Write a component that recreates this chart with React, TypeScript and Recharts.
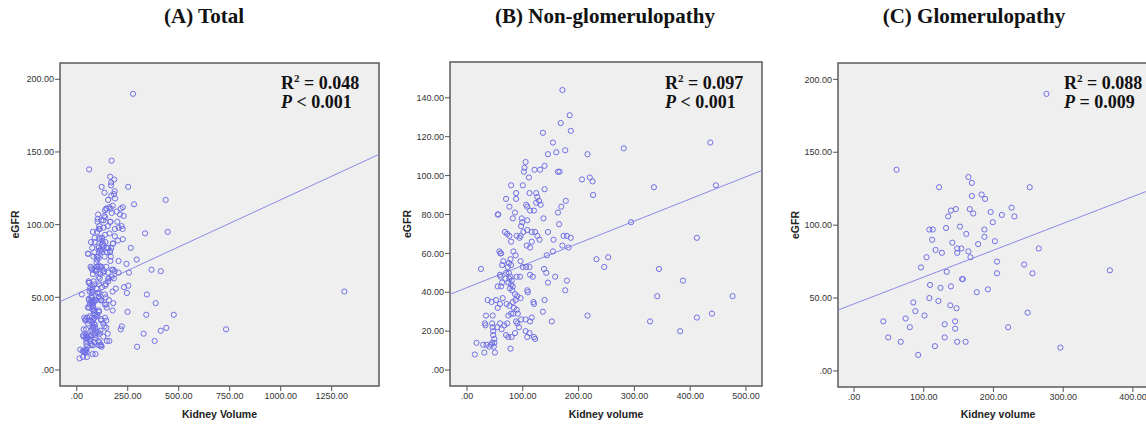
import {
  ScatterChart,
  Scatter,
  XAxis,
  YAxis,
  CartesianGrid,
  ReferenceArea,
  ReferenceLine,
} from "recharts";

type Point = [number, number]; // [kidney volume, eGFR]

// (B) non-glomerulopathy patients
const nonGlomPoints: Point[] = [
  [171, 144], [184, 131], [168, 127], [186, 123], [136, 122], [154, 117], [145, 111], [160, 112], [176, 113], [216, 111],
  [105, 107], [103, 104], [121, 103], [131, 103], [139, 105], [102, 102], [111, 99], [163, 102], [166, 102],
  [206, 98], [220, 99], [225, 97], [226, 90], [79, 95], [100, 95], [139, 93], [88, 91], [112, 91], [124, 91],
  [70, 88], [88, 88], [126, 89], [129, 87], [124, 86], [177, 87], [76, 84], [106, 85], [108, 84], [113, 82],
  [132, 85], [169, 84], [120, 82], [163, 81], [55, 80], [56, 80], [86, 81], [82, 78], [98, 78], [99, 76],
  [108, 77], [137, 78], [165, 75], [97, 74],
  [68, 71], [76, 69], [72, 70], [79, 66], [89, 69], [94, 68], [96, 69], [101, 71], [108, 72], [116, 71], [122, 71],
  [126, 69], [130, 67], [116, 66], [113, 63], [107, 64], [145, 71], [155, 67], [173, 69], [179, 69], [186, 68],
  [171, 64], [182, 63], [154, 61], [143, 59], [232, 57],
  [58, 61], [60, 60], [61, 60], [78, 57], [83, 61], [87, 59], [65, 56], [63, 54], [75, 55], [79, 54], [73, 53],
  [96, 56], [100, 53], [106, 53], [112, 53], [25, 52], [59, 49], [60, 48], [70, 50], [69, 47],
  [75, 50], [78, 48], [76, 47], [80, 46], [74, 45], [79, 44], [82, 43], [77, 42], [81, 41], [55, 43], [61, 43], [63, 45],
  [89, 48], [95, 48], [113, 49], [118, 48], [138, 52], [142, 50], [158, 48], [179, 46], [145, 45], [176, 41],
  [108, 41], [109, 40], [86, 39], [90, 38], [96, 37],
  [37, 36], [44, 35], [52, 36], [59, 34], [64, 37], [55, 32], [71, 34], [76, 33], [82, 35], [87, 36],
  [84, 32], [89, 31], [79, 29], [74, 28], [83, 29], [119, 35], [120, 34], [139, 36], [136, 30], [152, 25],
  [216, 28], [34, 28], [46, 28], [32, 24], [33, 23], [45, 24], [46, 22], [47, 20], [47, 18], [49, 16],
  [49, 14], [48, 12], [54, 22], [59, 24], [62, 21], [67, 23], [72, 24], [88, 25], [90, 24], [105, 26],
  [113, 25], [116, 27], [105, 20], [112, 19], [108, 17], [120, 17], [122, 16], [70, 18], [74, 17], [80, 17],
  [86, 19], [97, 26], [91, 29], [93, 22],
  [17, 14], [29, 13], [35, 13], [40, 12], [43, 13], [45, 14], [14, 8], [31, 9], [50, 9], [78, 11],
  [281, 114], [436, 117], [335, 94], [446, 95], [294, 76], [412, 68], [253, 58], [246, 53], [344, 52], [387, 46],
  [341, 38], [476, 38], [412, 27], [439, 29], [328, 25], [382, 20],
];

// (C) glomerulopathy patients
const glomPoints: Point[] = [
  [61, 138], [164, 133], [169, 129], [122, 126], [169, 120], [183, 121], [188, 118], [139, 110], [146, 111],
  [135, 106], [166, 111], [171, 108], [196, 109], [199, 102], [132, 98], [152, 99], [108, 97], [113, 97],
  [112, 90], [161, 94], [187, 97], [187, 92], [178, 87], [202, 89], [141, 88], [117, 83], [126, 81], [148, 84],
  [154, 84], [148, 81], [164, 82], [167, 78], [104, 78], [96, 71], [133, 68], [155, 63], [156, 63], [205, 75],
  [205, 67], [109, 59], [124, 57], [139, 58], [108, 50], [121, 48], [176, 54], [192, 56], [85, 47], [88, 41],
  [101, 38], [138, 45], [147, 43], [42, 34], [74, 36], [80, 30], [130, 32], [145, 34], [145, 29], [49, 23],
  [67, 20], [130, 23], [116, 17], [148, 20], [160, 20], [92, 11],
  [276, 190], [252, 126], [226, 112], [230, 106], [212, 107], [265, 84], [244, 73], [256, 67], [367, 69],
  [249, 40], [221, 30], [296, 16],
];

// only visible in (A): very large kidneys
const totalOnlyPoints: Point[] = [[732, 28], [1312, 54]];
const totalPoints: Point[] = [...nonGlomPoints, ...glomPoints, ...totalOnlyPoints];

const totalXTicks = [0, 250, 500, 750, 1000, 1250];
const totalYTicks = [0, 50, 100, 150, 200];
const nonGlomXTicks = [0, 100, 200, 300, 400, 500];
const nonGlomYTicks = [0, 20, 40, 60, 80, 100, 120, 140];
const glomXTicks = [0, 100, 200, 300, 400];
const glomYTicks = [0, 50, 100, 150, 200];

// linear fits
const totalFit = { intercept: 52.3, slope: 0.0648 };
const nonGlomFit = { intercept: 42.4, slope: 0.114 };
const glomFit = { intercept: 46.0, slope: 0.184 };

const DOT = "#7070e6";
const FIT_LINE = "#8a8ae8";
const sans = "'Liberation Sans', Arial, sans-serif";
const serif = "'Liberation Serif', 'Times New Roman', serif";
const tickStyle = { fontSize: 9, fill: "#333", fontFamily: sans };

const fmt = (v: number) => (v === 0 ? ".00" : v.toFixed(2));

const Ring = (p: any) => (
  <circle cx={p.cx} cy={p.cy} r={2.6} fill="none" stroke={DOT} strokeWidth={1} />
);

interface PanelProps {
  left: number;
  width: number;
  top: number;
  bottom: number;
  right: number;
  yAxisWidth: number;
  yLabelOffset: number;
  points: Point[];
  xDomain: [number, number];
  yDomain: [number, number];
  xTicks: number[];
  yTicks: number[];
  fit: { intercept: number; slope: number };
  xLabel: string;
}

const Panel = (props: PanelProps) => {
  const { left, width, top, bottom, right, yAxisWidth, yLabelOffset, points, xDomain, yDomain, xTicks, yTicks, fit, xLabel } = props;
  const data = points.map(([x, y]) => ({ x, y }));
  const [x0, x1] = xDomain;
  return (
    <div style={{ position: "absolute", left, top: 0 }}>
      <ScatterChart width={width} height={428} margin={{ top, right, bottom: 0, left: 0 }}>
        <CartesianGrid fill="#efefef" horizontal={false} vertical={false} />
        <XAxis
          type="number"
          dataKey="x"
          domain={xDomain}
          ticks={xTicks}
          interval={0}
          allowDataOverflow
          height={428 - bottom}
          tickSize={5}
          tickMargin={2}
          axisLine={false}
          tickLine={{ stroke: "#555" }}
          tick={tickStyle}
          tickFormatter={fmt}
          label={{
            value: xLabel,
            position: "insideBottom",
            offset: 10,
            fontSize: 10.5,
            fontWeight: 700,
            fill: "#222",
            fontFamily: sans,
          }}
        />
        <YAxis
          type="number"
          dataKey="y"
          domain={yDomain}
          ticks={yTicks}
          interval={0}
          allowDataOverflow
          width={yAxisWidth}
          tickSize={5}
          tickMargin={1}
          axisLine={false}
          tickLine={{ stroke: "#555" }}
          tick={tickStyle}
          tickFormatter={fmt}
          label={{
            value: "eGFR",
            angle: -90,
            position: "insideLeft",
            offset: yLabelOffset,
            fontSize: 10.5,
            fontWeight: 700,
            fill: "#222",
            fontFamily: sans,
            style: { textAnchor: "middle" },
          }}
        />
        <ReferenceArea
          x1={x0}
          x2={x1}
          y1={yDomain[0]}
          y2={yDomain[1]}
          fill="none"
          stroke="#5b5b5b"
          strokeWidth={1.5}
          ifOverflow="visible"
        />
        <Scatter data={data} shape={Ring} isAnimationActive={false} />
        <ReferenceLine
          segment={[
            { x: x0, y: fit.intercept + fit.slope * x0 },
            { x: x1, y: fit.intercept + fit.slope * x1 },
          ]}
          stroke={FIT_LINE}
          strokeWidth={1}
          ifOverflow="visible"
        />
      </ScatterChart>
    </div>
  );
};

const Stats = ({ x, r2, p }: { x: number; r2: string; p: string }) => (
  <text x={x} y={89} fontFamily={serif} fontWeight={700} fontSize={18} fill="#111">
    <tspan x={x}>R</tspan>
    <tspan dy={-7} fontSize={11}>2</tspan>
    <tspan dy={7}>{` = ${r2}`}</tspan>
    <tspan x={x} dy={19} fontStyle="italic">P</tspan>
    <tspan>{` ${p}`}</tspan>
  </text>
);

export default function App() {
  return (
    <div
      style={{
        position: "absolute",
        left: 0,
        top: 0,
        width: 1146,
        height: 428,
        overflow: "hidden",
        background: "#fff",
      }}
    >
      <Panel
        left={0}
        width={390}
        top={63}
        bottom={386}
        right={11}
        yAxisWidth={60}
        yLabelOffset={15}
        points={totalPoints}
        xDomain={[-82, 1482]}
        yDomain={[-11, 211.2]}
        xTicks={totalXTicks}
        yTicks={totalYTicks}
        fit={totalFit}
        xLabel="Kidney Volume"
      />
      <Panel
        left={382}
        width={390}
        top={62}
        bottom={386}
        right={10}
        yAxisWidth={68}
        yLabelOffset={25}
        points={nonGlomPoints}
        xDomain={[-30.5, 528.7]}
        yDomain={[-8.2, 158.4]}
        xTicks={nonGlomXTicks}
        yTicks={nonGlomYTicks}
        fit={nonGlomFit}
        xLabel="Kidney volume"
      />
      <Panel
        left={764}
        width={400}
        top={63}
        bottom={387}
        right={6}
        yAxisWidth={74}
        yLabelOffset={31}
        points={glomPoints}
        xDomain={[-23, 436]}
        yDomain={[-11, 211.2]}
        xTicks={glomXTicks}
        yTicks={glomYTicks}
        fit={glomFit}
        xLabel="Kidney volume"
      />
      <svg
        width={1146}
        height={428}
        style={{ position: "absolute", left: 0, top: 0, pointerEvents: "none" }}
      >
        <g fontFamily={serif} fontWeight={700} fontSize={21} fill="#111" textAnchor="middle">
          <text x={204} y={23}>(A) Total</text>
          <text x={605} y={23}>(B) Non-glomerulopathy</text>
          <text x={974} y={23}>(C) Glomerulopathy</text>
        </g>
        <Stats x={281} r2="0.048" p="< 0.001" />
        <Stats x={665} r2="0.097" p="< 0.001" />
        <Stats x={1064} r2="0.088" p="= 0.009" />
      </svg>
    </div>
  );
}
